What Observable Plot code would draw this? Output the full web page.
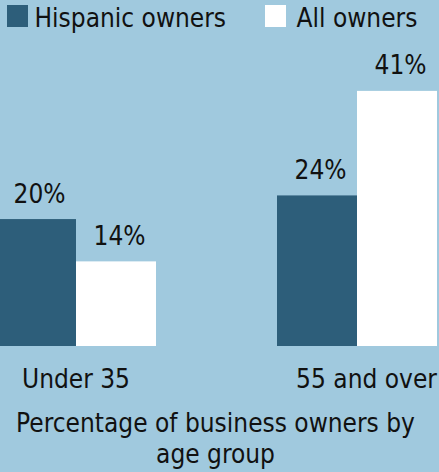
<!DOCTYPE html>
<html>
<head>
<meta charset="utf-8">
<script src="https://cdn.jsdelivr.net/npm/d3@7"></script>
<script src="https://cdn.jsdelivr.net/npm/@observablehq/plot@0.6"></script>
<style>
  html, body { margin: 0; padding: 0; }
  body {
    width: 439px; height: 472px; overflow: hidden; position: relative;
    background: #a0c9de;
    font-family: "DejaVu Sans Condensed", "DejaVu Sans", sans-serif;
    font-stretch: condensed;
    font-size: 26px; color: #111;
  }
  .sw { position: absolute; width: 21px; height: 22px; top: 5px; }
  .lt { position: absolute; top: 2.5px; line-height: 31px; white-space: nowrap; }
  #chart { position: absolute; top: 34px; left: -6px; }
  #caption { position: absolute; top: 407.5px; left: 0; width: 431px; text-align: center; line-height: 31px; }
</style>
</head>
<body>
<div id="legend"></div>
<div id="chart"></div>
<div id="caption"></div>
<script>
const groups = ["Under 35", "55 and over"];
const series = ["Hispanic owners", "All owners"];
const hispanicValues = [20.4, 24.2];
const allOwnersValues = [13.6, 41.0];
const colors = ["#2d5e7a", "#ffffff"];
const captionText = "Percentage of business owners by age group";

const data = groups.flatMap((g, i) => [
  {group: g, series: series[0], value: hispanicValues[i]},
  {group: g, series: series[1], value: allOwnersValues[i]}
]);

// legend
const legend = document.getElementById("legend");
const swatchX = [7, 265];
const textX = [34.5, 296.5];
series.forEach((s, i) => {
  const sw = document.createElement("div");
  sw.className = "sw";
  sw.style.left = swatchX[i] + "px";
  sw.style.background = colors[i];
  legend.appendChild(sw);
  const t = document.createElement("div");
  t.className = "lt";
  t.style.left = textX[i] + "px";
  t.textContent = s;
  legend.appendChild(t);
});

document.getElementById("caption").textContent = captionText;

const chart = Plot.plot({
  width: 445,
  height: 362,
  marginLeft: 0,
  marginRight: 1,
  marginTop: 32,
  marginBottom: 50,
  style: {
    background: "transparent",
    fontFamily: '"DejaVu Sans Condensed", "DejaVu Sans", sans-serif',
    fontStretch: "condensed",
    fontSize: "26px",
    overflow: "visible"
  },
  fx: {domain: groups, paddingInner: 0.4255, paddingOuter: 0, axis: null, label: null},
  x: {domain: series, padding: 0, axis: null},
  y: {domain: [0, 45], axis: null},
  color: {domain: series, range: colors},
  marks: [
    Plot.barY(data, {fx: "group", x: "series", y: "value", fill: "series"}),
    Plot.text(data, {
      fx: "group", x: "series", y: "value",
      text: d => Math.round(d.value) + "%",
      lineAnchor: "bottom", dy: -17, dx: 3, fill: "#111"
    }),
    Plot.text([groups[0]], {fx: d => d, text: d => d, frameAnchor: "bottom", lineAnchor: "bottom", dy: 41, fill: "#111"}),
    Plot.text([groups[1]], {fx: d => d, text: d => d, frameAnchor: "bottom", lineAnchor: "bottom", dy: 41, dx: 9.5, fill: "#111"})
  ]
});
document.getElementById("chart").appendChild(chart);
</script>
</body>
</html>
